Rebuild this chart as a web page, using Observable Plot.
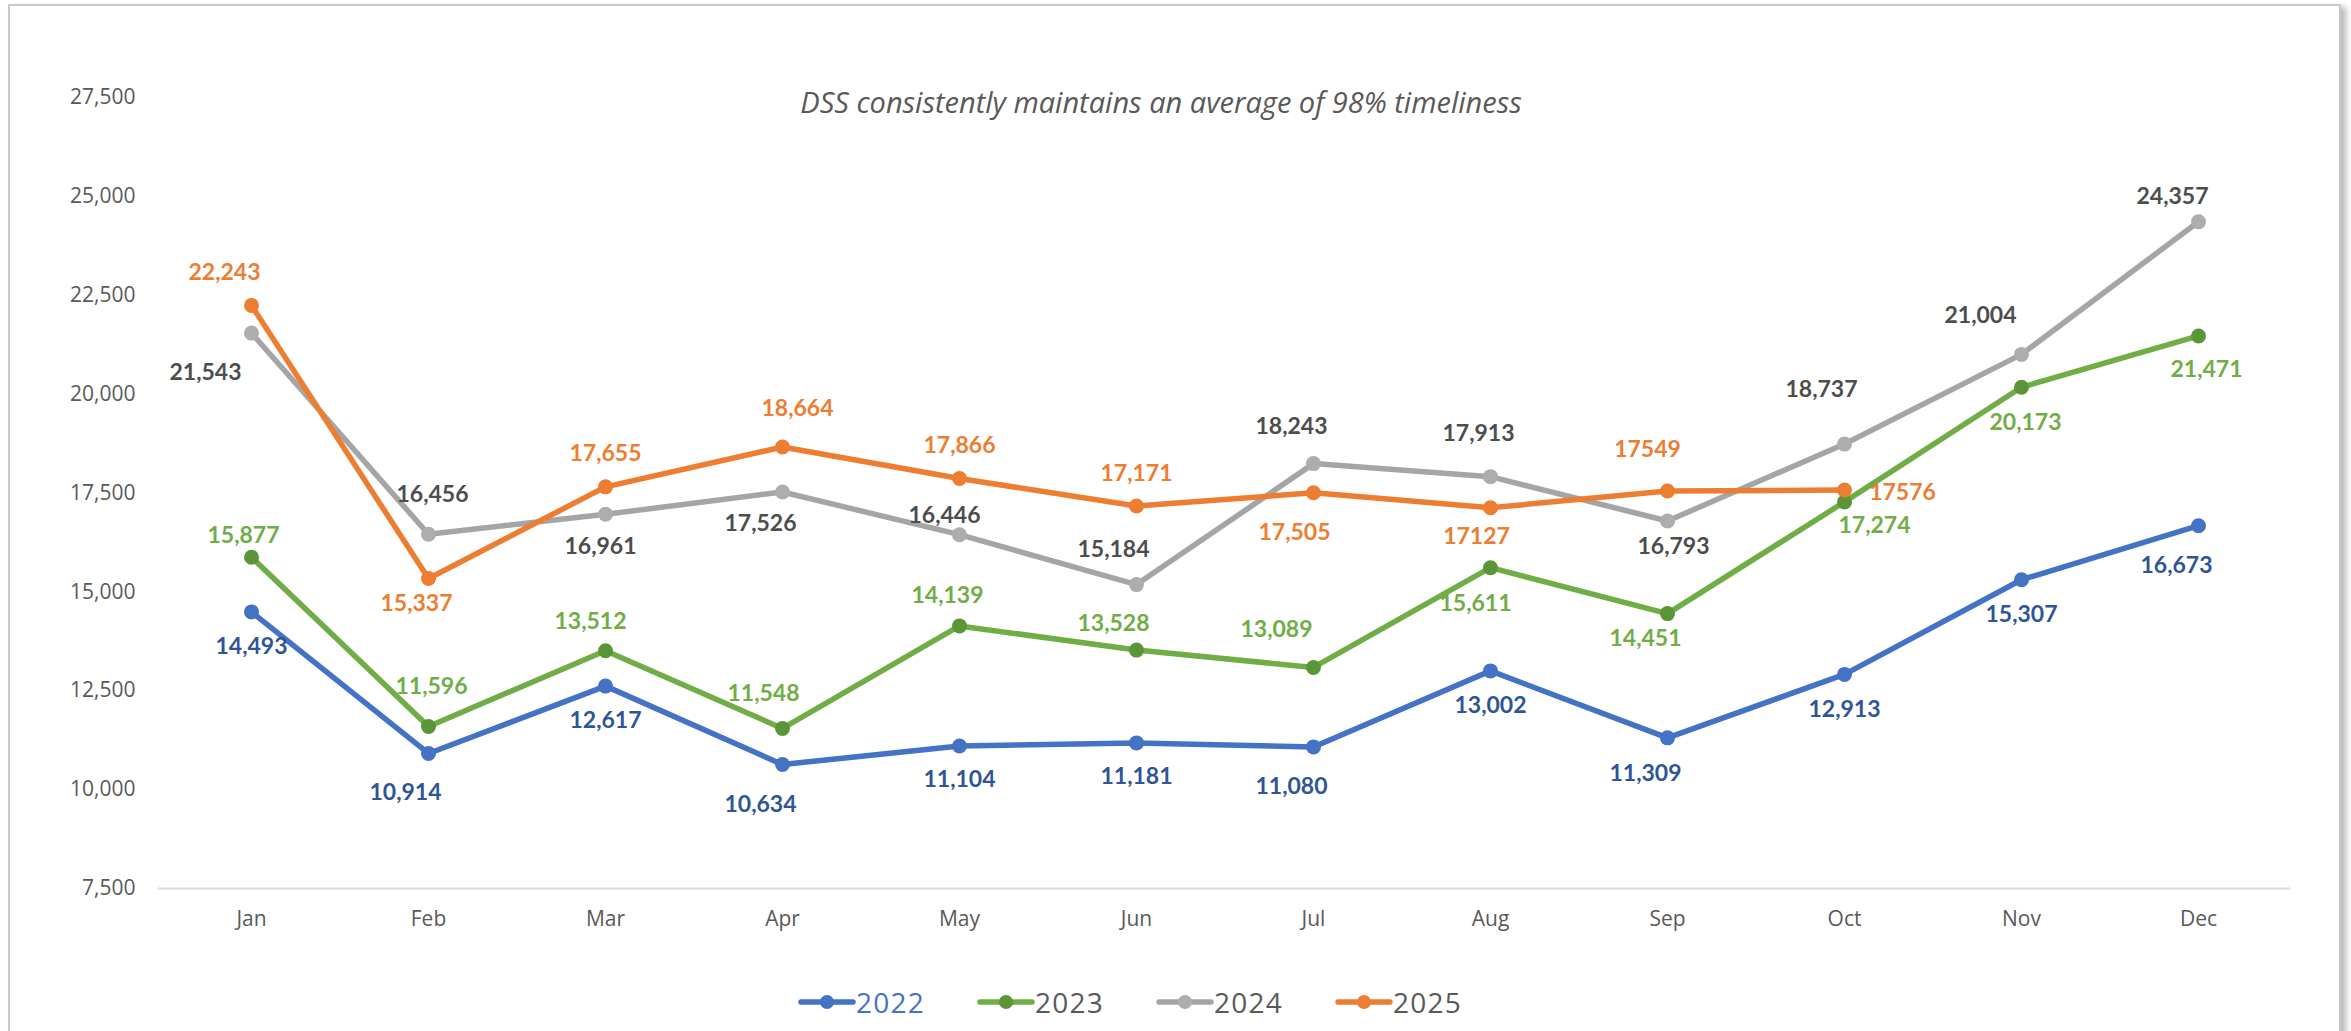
<!DOCTYPE html>
<html><head><meta charset="utf-8">
<script src="https://cdn.jsdelivr.net/npm/d3@7"></script>
<script src="https://cdn.jsdelivr.net/npm/@observablehq/plot@0.6"></script>
<style>
html,body{margin:0;padding:0;background:#fff;}
#wrap{position:relative;width:2351px;height:1031px;overflow:hidden;background:#fff;}
#frame{position:absolute;left:8px;top:4px;width:2329px;height:1100px;border:2px solid #c9c9c9;box-shadow:5px 3px 6px rgba(0,0,0,0.28);background:#fff;}
#chart{position:absolute;left:0;top:0;}
#title{position:absolute;left:1161px;top:101px;transform:translate(-50%,-50%);font-family:"Open Sans";font-style:italic;font-size:29px;color:#595959;white-space:nowrap;}
.leg{position:absolute;top:1002px;transform:translateY(-50%);display:flex;align-items:center;font-family:"Open Sans";font-size:28px;letter-spacing:1.2px;color:#595959;}
.leg svg{display:block;}
</style></head>
<body>
<div id="wrap">
  <div id="frame"></div>
  <div id="chart"></div>
  <div id="title"></div>
  <div id="legend"></div>
</div>
<script>
// ---- data ----
const months = ["Jan","Feb","Mar","Apr","May","Jun","Jul","Aug","Sep","Oct","Nov","Dec"];
const years = ["2022","2023","2024","2025"];
const v2022 = [14493,10914,12617,10634,11104,11181,11080,13002,11309,12913,15307,16673];
const v2023 = [15877,11596,13512,11548,14139,13528,13089,15611,14451,17274,20173,21471];
const v2024 = [21543,16456,16961,17526,16446,15184,18243,17913,16793,18737,21004,24357];
const v2025 = [22243,15337,17655,18664,17866,17171,17505,17127,17549,17576];
const noCommaLabels2025 = ["Aug","Sep","Oct"];
const yTicks = [7500,10000,12500,15000,17500,20000,22500,25000,27500];
const titleText = "DSS consistently maintains an average of 98% timeliness";

// ---- styling ----
const lineColors = ["#4472C4","#70AD47","#A5A5A5","#ED7D31"];
const markerColors = ["#4472C4","#5A9537","#ADADAD","#ED7D31"];
const labelColors = ["#2F5597","#70AD47","#4d4d4d","#ED7D31"];
const legendTextColors = ["#4472C4","#595959","#595959","#595959"];
// label nudges (dx, dy) relative to each point
const off2022 = [[0,35],[-23,39],[0,35],[-22,40],[0,34],[0,34],[-22,40],[0,35],[-22,36],[0,35],[0,35],[-22,40]];
const off2023 = [[-8,-22],[3,-40],[-15,-29],[-19,-35],[-12,-30],[-23,-26],[-37,-38],[-15,36],[-22,25],[30,24],[4,35],[8,34]];
const off2024 = [[-46,40],[4,-40],[-5,32],[-22,32],[-15,-19],[-23,-35],[-22,-37],[-12,-43],[6,26],[-23,-54],[-41,-39],[-26,-25]];
const off2025 = [[-27,-33],[-12,25],[0,-33],[15,-38],[0,-33],[0,-32],[-19,40],[-14,29],[-20,-41],[58,3]];

const seriesValues = [v2022, v2023, v2024, v2025];
const seriesOffsets = [off2022, off2023, off2024, off2025];

const rows = [];
seriesValues.forEach((vals, s) => {
  vals.forEach((v, i) => {
    rows.push({year: years[s], s, month: months[i], value: v,
      dx: seriesOffsets[s][i][0], dy: seriesOffsets[s][i][1]});
  });
});

const comma = d3.format(",");
const labelText = d => (d.year === "2025" && noCommaLabels2025.includes(d.month)) ? String(d.value) : comma(d.value);

const marks = [
  Plot.ruleY([7500], {stroke: "#d9d9d9", strokeWidth: 2}),
  Plot.axisY({ticks: yTicks, tickSize: 0, tickPadding: 23, tickFormat: comma, label: null, fontSize: 21}),
  Plot.axisX({tickSize: 0, tickPadding: 23, label: null, fontSize: 21})
];
years.forEach((yr, s) => {
  const data = rows.filter(d => d.s === s);
  marks.push(Plot.line(data, {x: "month", y: "value", stroke: lineColors[s], strokeWidth: 5.5, strokeLinejoin: "round", strokeLinecap: "round"}));
  marks.push(Plot.dot(data, {x: "month", y: "value", r: 7.5, fill: markerColors[s], stroke: "none"}));
});
rows.forEach(d => {
  marks.push(Plot.text([d], {x: "month", y: "value", text: labelText, dx: d.dx, dy: d.dy,
    fill: labelColors[d.s], fontWeight: "bold", fontSize: 23, fontFamily: "Lato"}));
});

const chart = Plot.plot({
  width: 2351,
  height: 960,
  marginLeft: 158,
  marginRight: 61,
  marginTop: 97,
  marginBottom: 72,
  style: {fontFamily: "Open Sans", color: "#595959", background: "transparent", overflow: "visible"},
  x: {type: "point", domain: months, padding: 0.5},
  y: {domain: [7500, 27500]},
  marks
});
document.getElementById("chart").appendChild(chart);
document.getElementById("title").textContent = titleText;

// legend
const legend = document.getElementById("legend");
years.forEach((yr, s) => {
  const item = document.createElement("div");
  item.className = "leg";
  item.style.left = (798 + s * 179) + "px";
  item.style.color = legendTextColors[s];
  item.innerHTML = `<svg width="58" height="18"><line x1="3" y1="9" x2="55" y2="9" stroke="${lineColors[s]}" stroke-width="5.5" stroke-linecap="round"/><circle cx="29" cy="9" r="7" fill="${markerColors[s]}"/></svg><span>${yr}</span>`;
  legend.appendChild(item);
});
</script>
</body></html>
